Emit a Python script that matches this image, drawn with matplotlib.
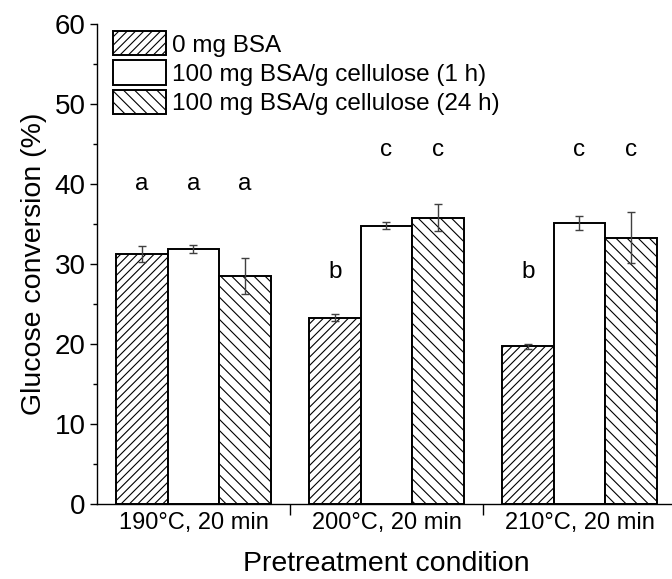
import numpy as np
import matplotlib
matplotlib.use("Agg")
import matplotlib.pyplot as plt
from matplotlib.ticker import MultipleLocator, FixedLocator

plt.rcParams["font.family"] = ["Liberation Sans", "DejaVu Sans"]
plt.rcParams["hatch.linewidth"] = 0.8
plt.rcParams["hatch.color"] = "#606060"

conditions = ["190°C, 20 min", "200°C, 20 min", "210°C, 20 min"]
series_names = ["0 mg BSA", "100 mg BSA/g cellulose (1 h)", "100 mg BSA/g cellulose (24 h)"]
bsa_0 = [31.3, 23.3, 19.7]
bsa_0_err = [1.0, 0.4, 0.3]
bsa_1h = [31.9, 34.8, 35.1]
bsa_1h_err = [0.5, 0.4, 0.85]
bsa_24h = [28.5, 35.8, 33.3]
bsa_24h_err = [2.2, 1.7, 3.2]
letters = [["a", "a", "a"], ["b", "c", "c"], ["b", "c", "c"]]
letter_y = [[40, 40, 40], [29, 44.3, 44.3], [29, 44.3, 44.3]]

fig = plt.figure(figsize=(6.72, 5.79), dpi=100)
ax = fig.add_axes([0.1443, 0.1295, 0.8616, 0.829])

x = np.arange(len(conditions))
w = 0.8 / 3
values = [bsa_0, bsa_1h, bsa_24h]
errs = [bsa_0_err, bsa_1h_err, bsa_24h_err]
hatches = ["////", "", "\\\\\\"]

for i in range(3):
    ax.bar(x + (i - 1) * w, values[i], w, color="white", edgecolor="black",
           linewidth=1.4, hatch=hatches[i], label=series_names[i], zorder=2)
    ax.errorbar(x + (i - 1) * w, values[i], yerr=errs[i], fmt="none",
                ecolor="#404040", elinewidth=1.0, capsize=3, capthick=1.0, zorder=3)

for g in range(3):
    for i in range(3):
        ax.text(x[g] + (i - 1) * w, letter_y[g][i], letters[g][i],
                ha="center", va="center", fontsize=17.5, color="black")

ax.set_xlim(-0.5, 2.5)
ax.set_ylim(0, 60)
ax.yaxis.set_major_locator(MultipleLocator(10))
ax.yaxis.set_minor_locator(MultipleLocator(5))
ax.xaxis.set_major_locator(FixedLocator([0.5, 1.5]))
ax.xaxis.set_minor_locator(FixedLocator(list(x)))
ax.set_xticklabels([], minor=False)
ax.set_xticklabels(conditions, minor=True, fontsize=17)
ax.tick_params(axis="x", which="major", length=8, width=1, direction="out")
ax.tick_params(axis="x", which="minor", length=0, pad=6)
ax.tick_params(axis="y", which="major", length=5, width=1, labelsize=20, pad=3)
ax.tick_params(axis="y", which="minor", length=3, width=1)

for side in ("top", "right"):
    ax.spines[side].set_visible(False)
for side in ("left", "bottom"):
    ax.spines[side].set_linewidth(1.0)

ax.set_ylabel("Glucose conversion (%)", fontsize=20.5, labelpad=6)
ax.set_xlabel("Pretreatment condition", fontsize=20.5, labelpad=12)

ax.legend(loc="upper left", bbox_to_anchor=(0.0276, 0.985), frameon=False,
          fontsize=17.5, handlelength=2.18, handleheight=1.15, labelspacing=0.16,
          handletextpad=0.25, borderaxespad=0, borderpad=0)

fig.savefig("out.png", dpi=100)
